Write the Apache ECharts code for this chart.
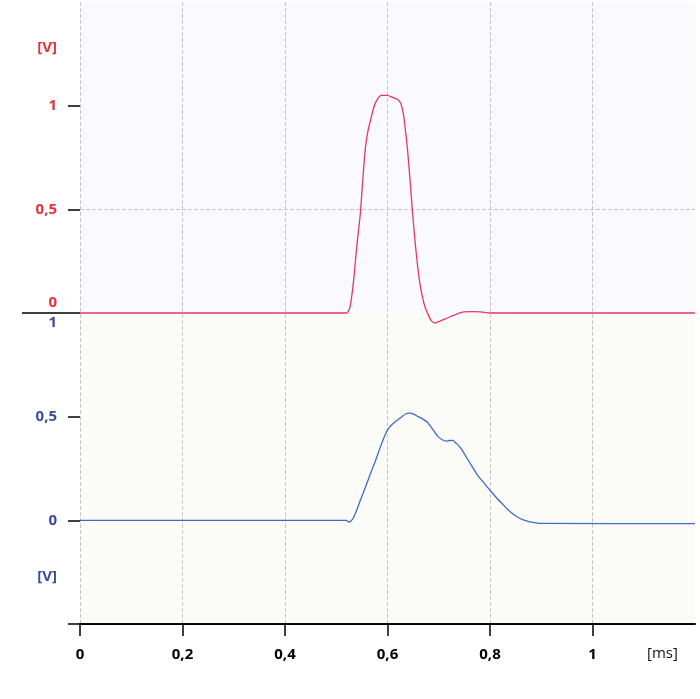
<!DOCTYPE html>
<html>
<head>
<meta charset="utf-8">
<title>Signal channels</title>
<script src="https://cdn.jsdelivr.net/npm/echarts@6/dist/echarts.min.js"></script>
<style>
  html, body { margin: 0; padding: 0; background: #fff; }
  #chart { width: 700px; height: 699px; }
</style>
</head>
<body>
<div id="chart"></div>
<script>
// time axis [ms]
var xTicks = [0, 0.2, 0.4, 0.6, 0.8, 1]

// channel 1 (red), upper trace
var redTime = [0, 0.52, 0.527, 0.534, 0.54, 0.547, 0.552, 0.557, 0.562, 0.567, 0.573, 0.58, 0.588, 0.6, 0.61, 0.62, 0.626, 0.631, 0.635, 0.639, 0.644, 0.649, 0.654, 0.659, 0.664, 0.668, 0.673, 0.678, 0.685, 0.692, 0.7, 0.717, 0.735, 0.749, 0.765, 0.782, 0.8, 1.2]
var redVolt = [0, 0, 0.03, 0.16, 0.32, 0.48, 0.65, 0.8, 0.88, 0.93, 0.99, 1.03, 1.05, 1.05, 1.04, 1.03, 1.01, 0.96, 0.88, 0.79, 0.64, 0.48, 0.34, 0.22, 0.13, 0.08, 0.03, 0, -0.035, -0.048, -0.042, -0.024, -0.005, 0.005, 0.007, 0.005, 0, 0]
var redTicks = [0, 0.5, 1]
var redUnitAt = 1.28

// channel 2 (blue), lower trace
var blueTime = [0, 0.52, 0.524, 0.528, 0.534, 0.54, 0.547, 0.557, 0.567, 0.577, 0.586, 0.595, 0.602, 0.61, 0.619, 0.628, 0.635, 0.643, 0.651, 0.66, 0.67, 0.678, 0.688, 0.698, 0.706, 0.714, 0.72, 0.727, 0.735, 0.743, 0.76, 0.776, 0.79, 0.8, 0.814, 0.827, 0.84, 0.854, 0.865, 0.874, 0.89, 0.9, 1.2]
var blueVolt = [0, 0, -0.008, -0.006, 0.015, 0.05, 0.097, 0.16, 0.227, 0.29, 0.353, 0.41, 0.444, 0.465, 0.483, 0.5, 0.513, 0.517, 0.512, 0.5, 0.487, 0.473, 0.44, 0.405, 0.39, 0.382, 0.385, 0.386, 0.37, 0.348, 0.28, 0.217, 0.175, 0.145, 0.105, 0.072, 0.04, 0.015, 0.002, -0.005, -0.012, -0.015, -0.016]
var blueTicks = [0, 0.5, 1]
var blueUnitAt = -0.27

var RED = '#e5323c'
var BLUE = '#3c4b9c'
var FONT = 'Open Sans'

function zip (t, v) {
  var out = []
  for (var i = 0; i < t.length; i++) {
    out.push([t[i], v[i]])
  }
  return out
}

function comma (v) {
  return String(v).replace('.', ',')
}

var chart = echarts.init(document.getElementById('chart'))

chart.setOption({
  animation: false,
  backgroundColor: '#fff',
  grid: { left: 80, right: 5, top: 2, bottom: 75 },
  xAxis: {
    type: 'value',
    min: 0,
    max: 1.2,
    interval: 0.2,
    axisLine: { show: true, onZero: false, lineStyle: { color: '#000', width: 2 } },
    axisTick: { show: true, length: 12, customValues: xTicks, lineStyle: { color: '#000', width: 1.5 } },
    axisLabel: {
      customValues: xTicks,
      formatter: comma,
      margin: 23,
      color: '#000',
      fontFamily: FONT,
      fontWeight: 'bold',
      fontSize: 15
    },
    splitLine: { show: true, lineStyle: { type: 'dashed', color: '#c6c6c6', width: 1 } }
  },
  yAxis: [
    { // red channel scale
      type: 'value',
      position: 'left',
      min: -1.5,
      max: 1.5,
      interval: 0.5,
      axisLine: { show: false },
      axisTick: { show: true, length: 12, customValues: [-1.5].concat(redTicks.filter(function (v) { return v !== 0 })), lineStyle: { color: '#000', width: 1.5 } },
      axisLabel: {
        customValues: redTicks.concat([redUnitAt]),
        margin: 23,
        color: RED,
        fontFamily: FONT,
        fontWeight: 'bold',
        fontSize: 15,
        formatter: function (v) {
          if (v === redUnitAt) return '[V]'
          if (v === 0) return '{up|0}'
          return comma(v)
        },
        rich: {
          up: { color: RED, fontFamily: FONT, fontWeight: 'bold', fontSize: 15, padding: [0, 0, 20, 0] }
        }
      },
      splitLine: { show: true, showMinLine: false, showMaxLine: false, lineStyle: { type: 'dashed', color: '#c6c6c6', width: 1 } }
    },
    { // blue channel scale
      type: 'value',
      position: 'left',
      min: -0.5,
      max: 2.5,
      interval: 0.5,
      axisLine: { show: false },
      axisTick: { show: true, length: 12, customValues: blueTicks.filter(function (v) { return v !== 1 }), lineStyle: { color: '#000', width: 1.5 } },
      axisLabel: {
        customValues: blueTicks.concat([blueUnitAt]),
        margin: 23,
        color: BLUE,
        fontFamily: FONT,
        fontWeight: 'bold',
        fontSize: 15,
        formatter: function (v) {
          if (v === blueUnitAt) return '[V]'
          if (v === 1) return '{down|1}'
          return comma(v)
        },
        rich: {
          down: { color: BLUE, fontFamily: FONT, fontWeight: 'bold', fontSize: 15, padding: [20, 0, 0, 0] }
        }
      },
      splitLine: { show: false }
    },
    { // channel separator line
      type: 'value',
      position: 'left',
      min: -1.5,
      max: 1.5,
      axisLine: { show: false },
      axisTick: { show: true, length: 58, customValues: [0], lineStyle: { color: '#000', width: 1.5 } },
      axisLabel: { show: false },
      splitLine: { show: false }
    }
  ],
  graphic: [
    {
      type: 'text',
      left: 647,
      top: 646,
      style: { text: '[ms]', fill: '#111', font: '15px "Open Sans"' }
    }
  ],
  series: [
    {
      name: 'CH1',
      type: 'line',
      yAxisIndex: 0,
      data: zip(redTime, redVolt),
      showSymbol: false,
      smooth: 0.2,
      lineStyle: { color: '#e6356f', width: 1.3 },
      markArea: {
        silent: true,
        itemStyle: { color: 'rgba(180,180,235,0.07)' },
        data: [[{ yAxis: 0 }, { yAxis: 1.5 }]]
      },
      z: 3
    },
    {
      name: 'CH2',
      type: 'line',
      yAxisIndex: 1,
      data: zip(blueTime, blueVolt),
      showSymbol: false,
      smooth: 0.2,
      lineStyle: { color: '#3e6cc2', width: 1.3 },
      markArea: {
        silent: true,
        itemStyle: { color: 'rgba(190,210,130,0.06)' },
        data: [[{ yAxis: -0.5 }, { yAxis: 1 }]]
      },
      z: 2
    }
  ]
})
</script>
</body>
</html>
